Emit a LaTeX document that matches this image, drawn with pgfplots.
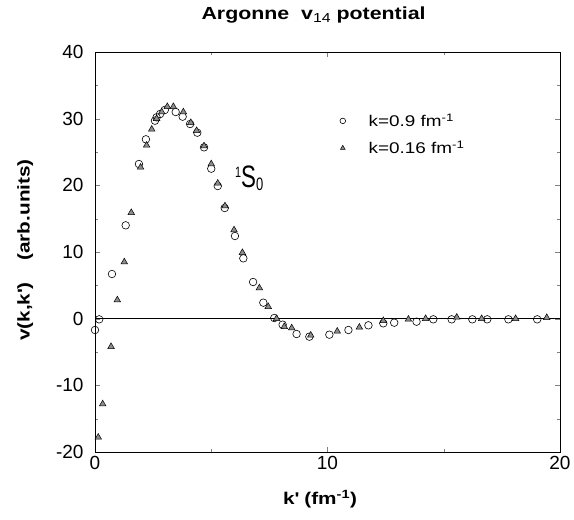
\documentclass[border=0pt]{standalone}
\usepackage{pgfplots}
\pgfplotsset{compat=1.18}
\usepackage{fontspec}
\setmainfont{Liberation Sans}
\newfontfamily\labfont[FakeStretch=1.22]{Liberation Sans}
\newfontfamily\condfont[FakeStretch=0.72]{Liberation Sans}
\newcommand{\legfont}{\labfont\fontsize{15.5}{18}\selectfont}
\begin{document}
\begin{tikzpicture}
\path[use as bounding box] (-95pt,-68pt) rectangle (479pt,452pt);
\begin{axis}[at={(0,0)},anchor=south west,scale only axis,width=465pt,height=400pt,
xmin=0,xmax=20,ymin=-20,ymax=40,xtick={0,10,20},ytick={-20,-10,0,10,20,30,40},
minor x tick num=1,minor y tick num=1,tick align=inside,
major tick length=5pt,minor tick length=3pt,axis line style={line width=0.8pt},
/pgf/number format/assume math mode=true,
tick label style={font=\fontsize{19}{19}\selectfont},
yticklabel style={xshift=-8pt},xticklabel style={yshift=-1pt},
title={\textbf{Argonne\ \ v}{\fontsize{13}{13}\selectfont\raisebox{-0.35ex}{14}}\textbf{ potential}},
title style={font=\labfont\fontsize{17.5}{17.5}\selectfont,at={(axis description cs:0.47,1)},anchor=south,yshift=19pt},
xlabel={\textbf{k\textquotesingle\ (fm\textsuperscript{-1})}},
xlabel style={font=\labfont\fontsize{17}{17}\selectfont,at={(axis description cs:0.484,-0.118)},anchor=center},
ylabel={\textbf{v(k,k\textquotesingle)\hspace{1.3em}(arb.units)}},
ylabel style={font=\labfont\fontsize{17}{17}\selectfont,at={(axis description cs:-0.15,0.505)},anchor=center},
legend style={at={(0.52,0.856)},anchor=north west,draw=none,fill=none,font=\legfont,
row sep=9pt,/tikz/every odd column/.append style={column sep=21pt}},legend cell align=left,clip=false,
legend image post style={mark size=2.8pt}]
\addplot[only marks,mark=o,mark size=3.8pt,mark options={line width=0.6pt,fill=white}] coordinates {
(0.0,-1.7) (0.18,-0.1) (0.73,6.7) (1.32,14.0) (1.89,23.2) (2.19,26.9) (2.58,29.7) (2.65,30.2) (2.8,30.7)
(3.0,31.3) (3.47,31.0) (3.77,30.3) (4.09,29.2) (4.4,27.9) (4.69,25.7) (5.0,22.5) (5.28,19.9) (5.58,16.6)
(6.02,12.4) (6.38,9.05) (6.8,5.5) (7.24,2.4) (7.71,0.1) (8.07,-0.9) (8.67,-2.3) (9.22,-2.7) (10.08,-2.4)
(10.9,-1.7) (11.76,-1.0) (12.4,-0.7) (12.87,-0.6) (13.83,-0.45) (14.55,-0.1) (15.34,-0.1) (16.23,-0.1)
(16.87,-0.1) (17.78,-0.1) (19.02,-0.1)};
\addlegendentry{\legfont k=0.9 fm\textsuperscript{-1}}
\addplot[only marks,mark=triangle*,mark size=3.8pt,mark options={fill=black!45,draw=black,line width=0.5pt}] coordinates {
(0.14,-17.8) (0.33,-12.8) (0.69,-4.2) (0.96,2.8) (1.26,8.5) (1.56,15.9) (1.96,22.7) (2.22,26.0) (2.44,28.4)
(2.65,30.0) (2.87,31.0) (3.11,31.8) (3.37,31.8) (3.8,31.0) (4.12,29.4) (4.37,28.2) (4.69,25.9) (5.0,23.2)
(5.28,20.3) (5.59,16.9) (5.98,13.3) (6.34,9.9) (7.07,4.6) (7.45,1.8) (7.81,0.0) (8.14,-1.2) (8.46,-1.4)
(9.28,-2.5) (10.42,-1.9) (11.37,-1.3) (12.4,-0.3) (13.48,-0.1) (14.22,0.0) (15.56,0.2) (16.63,0.0)
(18.09,0.0) (19.43,0.15)};
\addlegendentry{\legfont k=0.16 fm\textsuperscript{-1}}
\addplot[black,line width=0.7pt,forget plot] coordinates {(0,0) (20,0)};
\node[anchor=base west,inner sep=0pt] at (axis cs:6.02,19.75) {\condfont\fontsize{15}{15}\selectfont\raisebox{10pt}{1}\fontsize{31}{31}\selectfont S\fontsize{18}{18}\selectfont\raisebox{-3pt}{0}};
\end{axis}
\end{tikzpicture}
\end{document}
